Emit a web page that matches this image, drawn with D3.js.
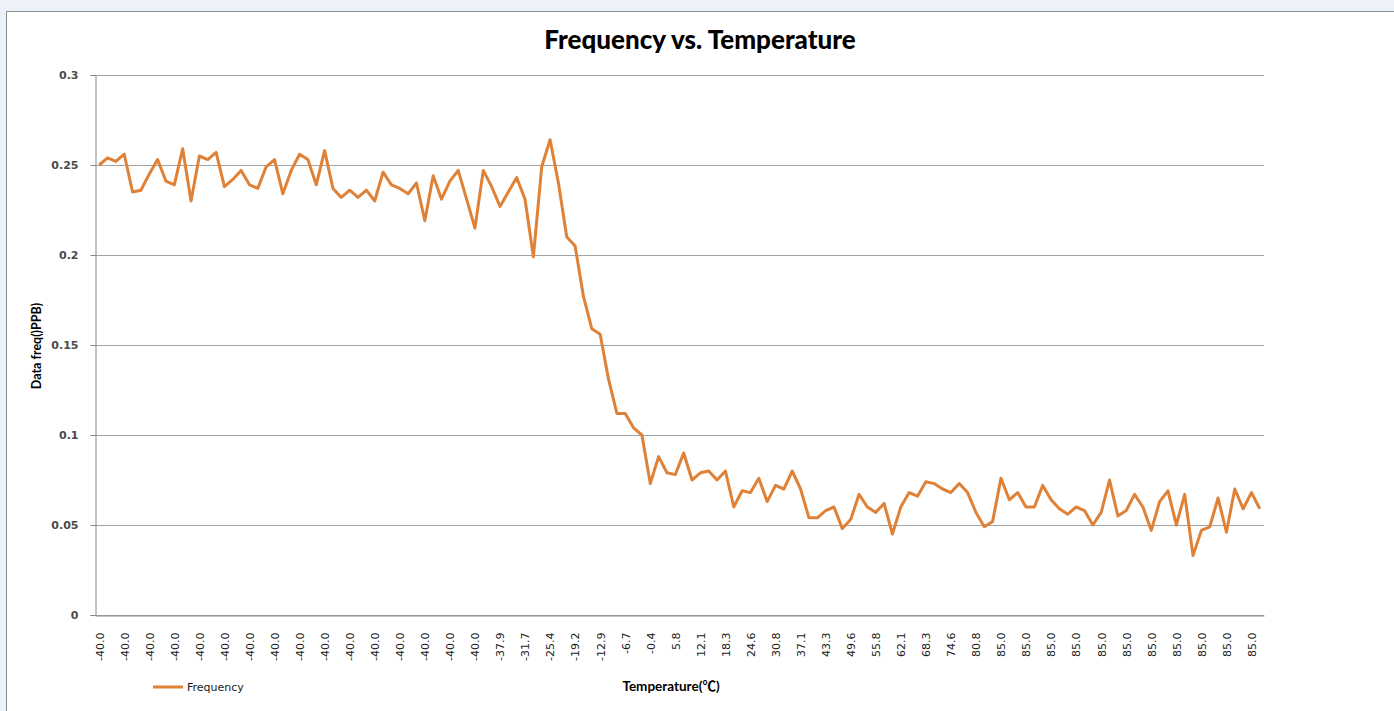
<!DOCTYPE html>
<html>
<head>
<meta charset="utf-8">
<script src="https://cdn.jsdelivr.net/npm/d3@7"></script>
<style>
	body { margin: 0; background: #edf2fa; }
	svg { display: block; }
</style>
</head>
<body>
<svg id="chart" width="1394" height="711"></svg>
<script>

// frequency readings, one per sample (140 samples)
var freq_values = [
	0.250, 0.254, 0.252, 0.256, 0.235, 0.236, 0.245, 0.253, 0.241, 0.239,
	0.259, 0.230, 0.255, 0.253, 0.257, 0.238, 0.242, 0.247, 0.239, 0.237,
	0.249, 0.253, 0.234, 0.247, 0.256, 0.253, 0.239, 0.258, 0.237, 0.232,
	0.236, 0.232, 0.236, 0.230, 0.246, 0.239, 0.237, 0.234, 0.240, 0.219,
	0.244, 0.231, 0.241, 0.247, 0.231, 0.215, 0.247, 0.238, 0.227, 0.235,
	0.243, 0.231, 0.199, 0.249, 0.264, 0.240, 0.210, 0.205, 0.177, 0.159,
	0.156, 0.131, 0.112, 0.112, 0.104, 0.100, 0.073, 0.088, 0.079, 0.078,
	0.090, 0.075, 0.079, 0.080, 0.075, 0.080, 0.060, 0.069, 0.068, 0.076,
	0.063, 0.072, 0.070, 0.080, 0.070, 0.054, 0.054, 0.058, 0.060, 0.048,
	0.053, 0.067, 0.060, 0.057, 0.062, 0.045, 0.060, 0.068, 0.066, 0.074,
	0.073, 0.070, 0.068, 0.073, 0.068, 0.057, 0.049, 0.052, 0.076, 0.064,
	0.068, 0.060, 0.060, 0.072, 0.064, 0.059, 0.056, 0.060, 0.058, 0.050,
	0.057, 0.075, 0.055, 0.058, 0.067, 0.060, 0.047, 0.063, 0.069, 0.050,
	0.067, 0.033, 0.047, 0.049, 0.065, 0.046, 0.070, 0.059, 0.068, 0.059
]

// temperature shown under every 3rd sample
var temp_labels = [
	'-40.0', '-40.0', '-40.0', '-40.0', '-40.0', '-40.0', '-40.0', '-40.0',
	'-40.0', '-40.0', '-40.0', '-40.0', '-40.0', '-40.0', '-40.0', '-40.0',
	'-37.9', '-31.7', '-25.4', '-19.2', '-12.9', '-6.7', '-0.4', '5.8',
	'12.1', '18.3', '24.6', '30.8', '37.1', '43.3', '49.6', '55.8',
	'62.1', '68.3', '74.6', '80.8', '85.0', '85.0', '85.0', '85.0',
	'85.0', '85.0', '85.0', '85.0', '85.0', '85.0', '85.0'
]
var label_step = 3

var y_ticks = [0, 0.05, 0.1, 0.15, 0.2, 0.25, 0.3]
var series_name = 'Frequency'
var line_color = '#df8136'

function draw_freq_chart(svg_ele) {

	var svg = d3.select(svg_ele)
	var margin = {'top': 75, 'right': 130, 'bottom': 96, 'left': 95}
	var width = +svg.attr('width')
	var height = +svg.attr('height')
	var active_width = width - margin.left - margin.right
	var active_height = height - margin.top - margin.bottom

	// chart frame
	svg.append('rect')
		.attr('x', 6.5).attr('y', 11.5)
		.attr('width', width).attr('height', height)
		.attr('fill', '#ffffff')
		.attr('stroke', '#8e8e8e')

	var g = svg.append('g')
		.attr('transform', 'translate(' + margin.left + ',' + margin.top + ')')

	var idx = d3.range(freq_values.length)

	var xaxis_scale = d3.scalePoint()
		.domain(idx)
		.range([0, active_width])
		.padding(0.5)

	var yaxis_scale = d3.scaleLinear()
		.domain([0, 0.3])
		.range([active_height, 0])

	// gridlines
	g.append('g')
		.selectAll('line')
		.data(y_ticks)
		.enter()
		.append('line')
		.attr('x1', 0)
		.attr('x2', active_width)
		.attr('y1', function(d) {return Math.round(yaxis_scale(d)) + 0.5})
		.attr('y2', function(d) {return Math.round(yaxis_scale(d)) + 0.5})
		.attr('stroke', '#a3a3a3')

	// y axis
	var yaxis = g.append('g')
		.attr('transform', 'translate(0.5,0)')
		.call(d3.axisLeft(yaxis_scale).tickValues(y_ticks).tickFormat(d3.format('')).tickSize(5).tickPadding(12))
	yaxis.select('.domain').attr('stroke', '#868686')
	yaxis.selectAll('.tick line').attr('stroke', '#868686')
	yaxis.selectAll('text')
		.attr('font-family', 'DejaVu Sans')
		.attr('font-size', '11px')
		.attr('font-weight', 'bold')
		.attr('fill', '#4a4a4a')

	// x axis
	var xaxis = g.append('g')
		.attr('transform', 'translate(0,' + (active_height + 0.5) + ')')
		.call(d3.axisBottom(xaxis_scale)
			.tickValues(idx.filter(function(i) {return i % label_step == 0}))
			.tickFormat(function(i) {return temp_labels[i / label_step]})
			.tickSize(0))
	xaxis.select('.domain').attr('stroke', '#868686')
	xaxis.selectAll('text')
		.attr('font-family', 'DejaVu Sans')
		.attr('font-size', '11px')
		.attr('fill', '#1a1a1a')
		.attr('transform', 'rotate(-90)')
		.attr('text-anchor', 'end')
		.attr('x', -17)
		.attr('y', 0)
		.attr('dy', '0.35em')

	// the series line
	var line = d3.line()
		.x(function(d, i) {return xaxis_scale(i)})
		.y(function(d) {return yaxis_scale(d)})

	g.append('path')
		.datum(freq_values)
		.attr('d', line)
		.attr('fill', 'none')
		.attr('stroke', line_color)
		.attr('stroke-width', 3)
		.attr('stroke-linejoin', 'round')

	// titles
	svg.append('text')
		.attr('x', 700).attr('y', 49)
		.attr('text-anchor', 'middle')
		.attr('font-family', 'Lato')
		.attr('font-weight', 900)
		.attr('font-size', '26px')
		.attr('fill', '#000')
		.text('Frequency vs. Temperature')

	svg.append('text')
		.attr('transform', 'translate(41,346) rotate(-90)')
		.attr('text-anchor', 'middle')
		.attr('font-family', 'Lato')
		.attr('font-weight', 'bold')
		.attr('font-size', '12.5px')
		.attr('fill', '#000')
		.text('Data freq()PPB)')

	var xtitle = svg.append('text')
		.attr('x', 671).attr('y', 691)
		.attr('text-anchor', 'middle')
		.attr('font-family', 'Lato')
		.attr('font-weight', 'bold')
		.attr('font-size', '13.5px')
		.attr('fill', '#000')
	xtitle.append('tspan').text('Temperature(')
	xtitle.append('tspan').attr('font-family', 'Noto Sans CJK SC').text('℃')
	xtitle.append('tspan').text(')')

	// legend
	var legend = svg.append('g').attr('transform', 'translate(153,687)')
	legend.append('line')
		.attr('x1', 0).attr('x2', 30)
		.attr('stroke', line_color)
		.attr('stroke-width', 3)
	legend.append('text')
		.attr('x', 34).attr('dy', '0.35em')
		.attr('font-family', 'DejaVu Sans')
		.attr('font-size', '11px')
		.attr('fill', '#1a1a1a')
		.text(series_name)
}

draw_freq_chart('#chart')
</script>
</body>
</html>
